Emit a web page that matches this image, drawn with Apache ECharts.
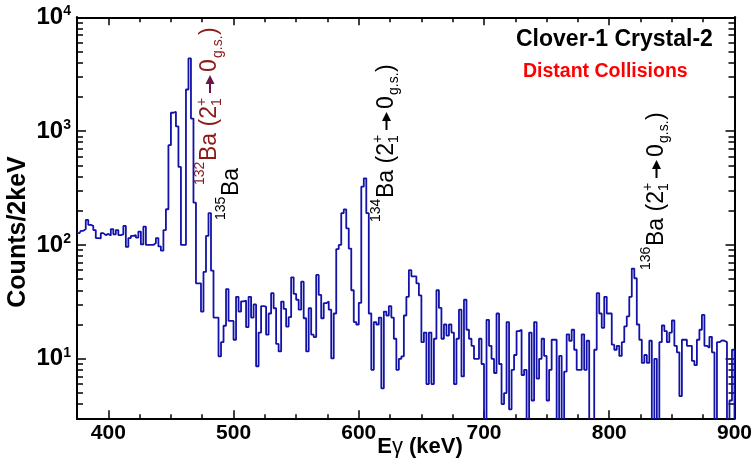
<!DOCTYPE html>
<html>
<head>
<meta charset="utf-8">
<script src="https://cdn.jsdelivr.net/npm/echarts@6/dist/echarts.min.js"></script>
<style>
html,body{margin:0;padding:0;background:#fff;}
#c{width:755px;height:475px;}
</style>
</head>
<body>
<div id="c"></div>
<script>
// ---- data: 2 keV bins, centres starting at 375 keV ----
const binStart = 375;
const binWidth = 2;
// 375 .. 447 keV
const countsA = [127,127,133,138,166,150,147,135,115,114,127,122,125,121,138,124,135,122,124,147,
  96,115,120,122,116,131,101,145,100,100,100,104,115,97,89,135,206];
// 449 .. 591 keV
const countsB = [753,1450,1480,1100,485,100,100,2320,4350,1290,235,
  46,46,26,58,120,190,59.5,23,23,10.5,14,19.5,41,21.5,21.5,14.7,35,26,32,32.5,
  19,35,23,30,8.6,17,29,28.7,16.3,25,37.7,27.8,13.5,11.6,31.8,27.4,19.2,23.2,52,37.2,
  33,27,47.6,22.7,11.6,27.8,16.3,15.5,54.5,36.4,22.7,30.8,31.8,27,10.1,25,92,100,190,205,140];
// 593 .. 719 keV
const countsC = [93,40,21,20,31,325,385,190,25,8,21,20,23,5.5,26,24,29,23,15,8,
  10,10.5,24,35,60,53,53,46,36,14,17,6,17,6,15,40,28,15,20,16,
  20,17,6,15,27,7,33,18,15,13,10,10,15,9,1,22,13,10,7.5,25,9,4,5,21];
// 721 .. 901 keV
const countsD = [3.6,8,10.8,17.5,18,7.2,8,1,17,4.3,21,6.7,10,15,10.6,4.3,8,14.7,14.7,1,
  10.6,1,7.7,16.4,14.4,18,12,8,8,16.4,8,14.4,1,1,12,37.7,25,18.7,35,25,
  25,13.3,12,13,10.6,14,19.3,23.6,35,62,51,20,14.7,9.2,10.8,9.2,14.4,1,10,1,
  14,19.6,17.5,14,17,21.7,13,11.4,4.7,14.7,14.7,13,13,9.6,8.8,14.7,18,24.3,13,12.5,
  15.6,11.4,1,14,14.5,14.4,14,1,4.3,12,1];

const xMajorTicks = [400,500,600,700,800,900];
const xMinorTicks = [425,450,475,525,550,575,625,650,675,725,750,775,825,850,875];
const yMajorTicks = [10,100,1000,10000];
const yMinorTicks = [4,5,6,7,8,9,20,30,40,50,60,70,80,90,200,300,400,500,600,700,800,900,
  2000,3000,4000,5000,6000,7000,8000,9000];

const FONT = "'Liberation Sans', Arial, Helvetica, sans-serif";

const counts = countsA.concat(countsB, countsC, countsD);
const spectrum = counts.map((c, i) => [binStart + i * binWidth, c]);

function xAxisDef(pos, ticks, len, showLabel) {
  return {
    type: 'value', position: pos, min: 375, max: 900, gridIndex: 0,
    axisLine: {show: true, onZero: false, lineStyle: {color: '#000', width: 2}},
    axisTick: {show: true, inside: true, length: len, customValues: ticks,
      lineStyle: {color: '#000', width: 1.5}},
    axisLabel: {show: showLabel, customValues: ticks, margin: 4,
      fontFamily: FONT, fontWeight: 'bold', fontSize: 21, color: '#000'},
    splitLine: {show: false}
  };
}
function yAxisDef(pos, ticks, len, showLabel) {
  return {
    type: 'log', logBase: 10, position: pos, min: 3, max: 10000, gridIndex: 0,
    axisLine: {show: true, onZero: false, lineStyle: {color: '#000', width: 2}},
    axisTick: {show: true, inside: true, length: len, customValues: ticks,
      lineStyle: {color: '#000', width: 1.5}},
    axisLabel: {show: showLabel, customValues: ticks, margin: 6,
      formatter: v => '{b|10}{s|' + Math.round(Math.log10(v)) + '}',
      rich: {
        b: {fontFamily: FONT, fontWeight: 'bold', fontSize: 24, color: '#000', lineHeight: 26},
        s: {fontFamily: FONT, fontWeight: 'bold', fontSize: 14, color: '#000', lineHeight: 14, verticalAlign: 'top'}
      }},
    splitLine: {show: false}
  };
}

function txt(x, y, text, size, fill, weight) {
  return {type: 'text', x: x, y: y, silent: true,
    style: {text: text, font: (weight || 'normal') + ' ' + size + 'px ' + FONT,
      fill: fill, align: 'left', verticalAlign: 'middle'}};
}
function isoLabel(cx, sy, iso, col, arrowCol, full) {
  const ch = [txt(0, -10, iso, 14, col), txt(24, 0, full ? 'Ba (2' : 'Ba', 23, col)];
  if (full) {
    ch.push(txt(79, -8, '+', 14, col));
    ch.push(txt(79, 7.5, '1', 14, col));
    ch.push({type: 'line', silent: true, shape: {x1: 92, y1: 0, x2: 103, y2: 0},
      style: {stroke: arrowCol, lineWidth: 2}});
    ch.push({type: 'polygon', silent: true, shape: {points: [[101, -4.5], [110, 0], [101, 4.5]]},
      style: {fill: arrowCol}});
    ch.push(txt(113, 0, '0', 23, col));
    ch.push(txt(127, 8, 'g.s.', 14, col));
    ch.push(txt(150, 0, ')', 23, col));
  }
  return {type: 'group', x: cx, y: sy, rotation: Math.PI / 2, children: ch};
}

const chart = echarts.init(document.getElementById('c'), null, {renderer: 'canvas'});
chart.setOption({
  animation: false,
  backgroundColor: '#fff',
  grid: {left: 77, right: 18.3, top: 17.3, bottom: 56.7, containLabel: false},
  xAxis: [
    xAxisDef('bottom', xMajorTicks, 8, true),
    xAxisDef('bottom', xMinorTicks, 4, false),
    xAxisDef('top', xMajorTicks, 8, false),
    xAxisDef('top', xMinorTicks, 5, false)
  ],
  yAxis: [
    yAxisDef('left', yMajorTicks, 9, true),
    yAxisDef('left', yMinorTicks, 6, false),
    yAxisDef('right', yMajorTicks, 9, false),
    yAxisDef('right', yMinorTicks, 6, false)
  ],
  series: [{
    type: 'line', xAxisIndex: 0, yAxisIndex: 0, step: 'middle',
    data: spectrum, showSymbol: false, symbol: 'none', clip: true,
    lineStyle: {color: '#1212a8', width: 1.8}
  }],
  graphic: [
    {type: 'text', x: 516, y: 39.5, silent: true,
      style: {text: 'Clover-1 Crystal-2', font: 'bold 23px ' + FONT, fill: '#000',
        align: 'left', verticalAlign: 'middle'}},
    {type: 'text', x: 523, y: 71.7, silent: true,
      style: {text: 'Distant Collisions', font: 'bold 19.5px ' + FONT, fill: '#ff0000',
        align: 'left', verticalAlign: 'middle'}},
    {type: 'text', x: 420, y: 447, silent: true,
      style: {text: '{b|E}{g|γ}{b| (keV)}', align: 'center', verticalAlign: 'middle',
        rich: {
          b: {fontFamily: FONT, fontWeight: 'bold', fontSize: 22, fill: '#000'},
          g: {fontFamily: FONT, fontWeight: 'normal', fontSize: 22, fill: '#000'}
        }}},
    {type: 'text', x: 18, y: 232, rotation: Math.PI / 2, silent: true,
      style: {text: 'Counts/2keV', font: 'bold 25px ' + FONT, fill: '#000',
        align: 'center', verticalAlign: 'middle'}},
    isoLabel(210, 185, '132', '#8c1a1a', '#6c1444', true),
    isoLabel(231.5, 220, '135', '#000', '#000', false),
    isoLabel(386.5, 222, '134', '#000', '#000', true),
    isoLabel(656.5, 270, '136', '#000', '#000', true)
  ]
});
</script>
</body>
</html>
